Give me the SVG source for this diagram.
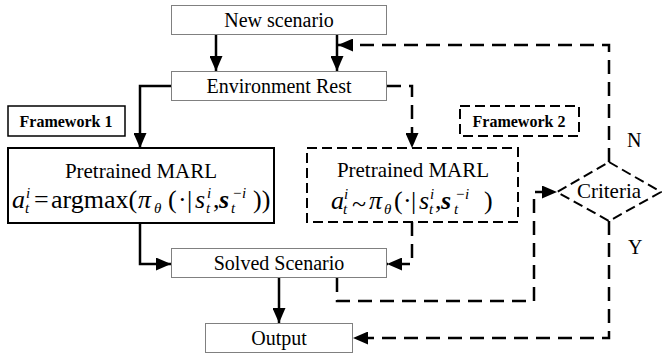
<svg xmlns="http://www.w3.org/2000/svg" width="662" height="358" viewBox="0 0 662 358">
<defs>
<marker id="ah" markerUnits="userSpaceOnUse" markerWidth="15" markerHeight="13" refX="15" refY="6.5" orient="auto">
<path d="M0,0 L15,6.5 L0,13 z" fill="#000"/>
</marker>
<style>
text{font-family:'Liberation Serif','Times New Roman','DejaVu Serif',serif;fill:#000}
.c{text-anchor:middle}
.box{fill:#fff;stroke:#808080;stroke-width:1}
.lb{font-size:20px}
.fw{font-size:16px;font-weight:bold}
.m{font-size:26px}
.i{font-style:italic}
.s{font-size:15px;font-style:italic}
.sl{stroke:#000;stroke-width:2.5;fill:none}
.dl{stroke:#000;stroke-width:2.5;fill:none;stroke-dasharray:14 8}
.db{fill:none;stroke:#000;stroke-width:2;stroke-dasharray:10 5}
</style>
</defs>
<rect width="662" height="358" fill="#fff"/>
<g id="connectors">
<path class="sl" d="M216,35 V71" marker-end="url(#ah)"/>
<path class="sl" d="M337,35 V71" marker-end="url(#ah)"/>
<path class="dl" d="M609,162 V45 H338" marker-end="url(#ah)"/>
<path class="sl" d="M171,86 H140 V148" marker-end="url(#ah)"/>
<path class="dl" d="M387,86 H412 V148" marker-end="url(#ah)"/>
<path class="sl" d="M140,223 V264 H171" marker-end="url(#ah)"/>
<path class="dl" d="M412,222 V264 H387" marker-end="url(#ah)"/>
<path class="sl" d="M279,278 V323" marker-end="url(#ah)"/>
<path class="dl" d="M337,278 V301 H534 V192 H557" marker-end="url(#ah)"/>
<path class="dl" d="M609,221 V338 H353" marker-end="url(#ah)"/>
</g>
<g id="new-scenario">
<rect class="box" x="171.5" y="5.5" width="215" height="29"/>
<text class="c lb" x="279" y="27">New scenario</text>
</g>
<g id="environment-rest">
<rect class="box" x="171.5" y="71.5" width="215" height="29"/>
<text class="c lb" x="279" y="93">Environment Rest</text>
</g>
<g id="framework1-label">
<rect x="8" y="106" width="117" height="30" fill="#fff" stroke="#000" stroke-width="1.5"/>
<text class="c fw" x="66" y="127">Framework 1</text>
</g>
<g id="framework1">
<rect x="8" y="148" width="266" height="75" fill="#fff" stroke="#000" stroke-width="2"/>
<text class="c" x="141" y="178" font-size="21">Pretrained MARL</text>
<text class="m i" x="12" y="208">a</text>
<text class="s" x="26" y="198">i</text>
<text class="s" x="25" y="213">t</text>
<text class="m" x="34" y="208">=</text>
<text class="m" x="51" y="208">argmax(</text>
<text class="m i" x="138" y="208">π</text>
<text class="s" x="154" y="213">θ</text>
<text class="m" x="168" y="208">(</text>
<text class="m" x="178" y="208">·</text>
<text class="m" x="187" y="208">|</text>
<text class="m i" x="195" y="208">s</text>
<text class="s" x="207" y="198">i</text>
<text class="s" x="206" y="213">t</text>
<text class="m" x="213" y="208">,</text>
<text class="m i" x="219" y="208" font-weight="bold">s</text>
<text class="s" x="232" y="198">−i</text>
<text class="s" x="231" y="213">t</text>
<text class="m" x="253" y="208">))</text>
</g>
<g id="framework2-label">
<rect class="db" x="460" y="106" width="119" height="30"/>
<text class="c fw" x="519" y="127">Framework 2</text>
</g>
<g id="framework2">
<rect class="db" x="307" y="148" width="211" height="74"/>
<text class="c" x="413" y="177" font-size="21">Pretrained MARL</text>
<text class="m i" x="331" y="209">a</text>
<text class="s" x="344" y="199">i</text>
<text class="s" x="343" y="214">t</text>
<text class="m" x="352" y="212">~</text>
<text class="m i" x="369" y="209">π</text>
<text class="s" x="384" y="214">θ</text>
<text class="m" x="394" y="209">(</text>
<text class="m" x="403" y="209">·</text>
<text class="m" x="411" y="209">|</text>
<text class="m i" x="419" y="209">s</text>
<text class="s" x="430" y="199">i</text>
<text class="s" x="429" y="214">t</text>
<text class="m" x="435" y="209">,</text>
<text class="m i" x="441" y="209" font-weight="bold">s</text>
<text class="s" x="455" y="199" font-size="16">−i</text>
<text class="s" x="454" y="214">t</text>
<text class="m" x="484" y="209">)</text>
</g>
<g id="solved-scenario">
<rect class="box" x="171.5" y="248.5" width="215" height="29"/>
<text class="c lb" x="279" y="270">Solved Scenario</text>
</g>
<g id="output">
<rect class="box" x="205.5" y="323.5" width="147" height="29"/>
<text class="c lb" x="279" y="345">Output</text>
</g>
<g id="criteria">
<polygon class="db" points="609,162 661,192 609,221 557,192"/>
<text class="c" x="609" y="198" font-size="21">Criteria</text>
</g>
<g id="labels">
<text x="627" y="147" font-size="20">N</text>
<text x="628" y="254" font-size="20">Y</text>
</g>
</svg>
